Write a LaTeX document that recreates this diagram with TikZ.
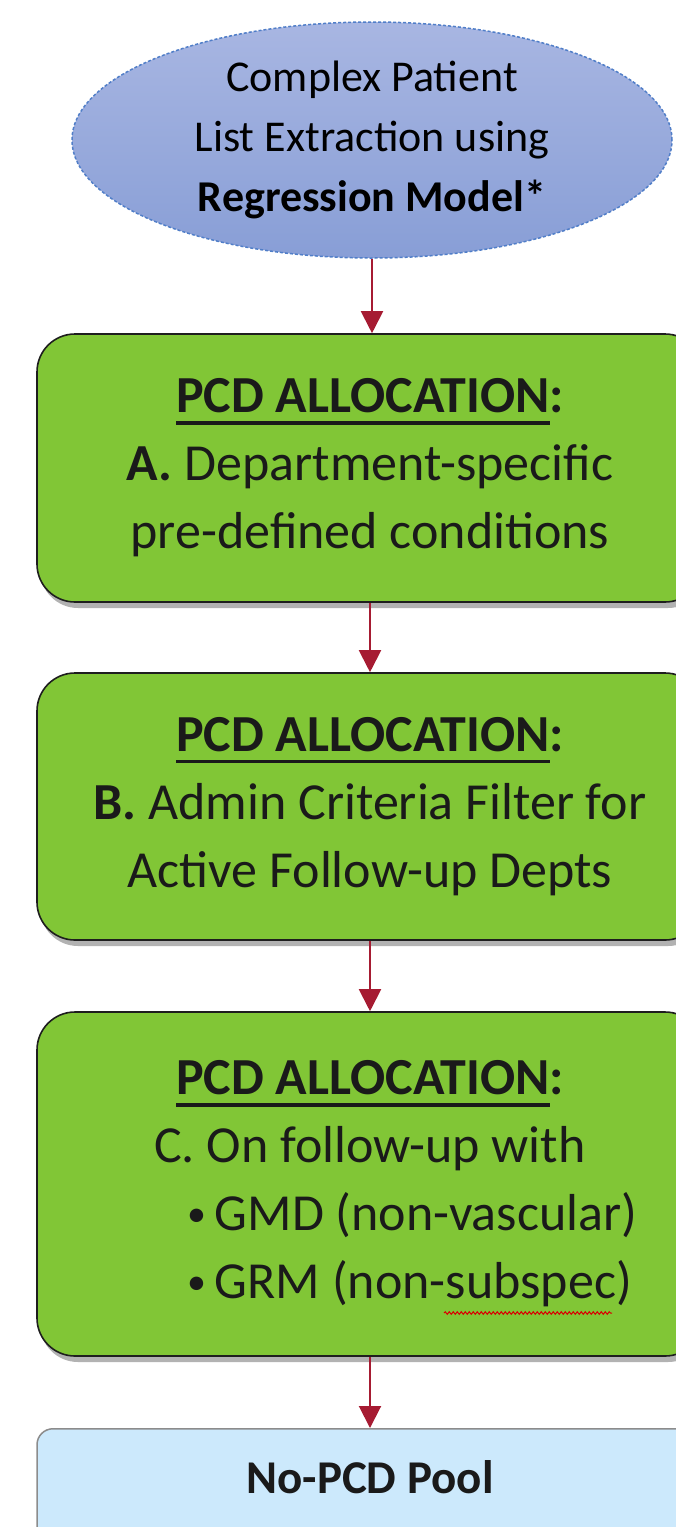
\documentclass[tikz,border=0pt]{standalone}
\usepackage{fontspec}
\setmainfont{Carlito}
\usetikzlibrary{shapes.geometric,arrows.meta,shadows,decorations.pathmorphing}
\definecolor{ellTop}{RGB}{168,182,226}
\definecolor{ellBot}{RGB}{136,158,214}
\definecolor{ellLine}{RGB}{80,126,200}
\definecolor{boxGreen}{RGB}{129,198,54}
\definecolor{boxLine}{RGB}{30,30,30}
\definecolor{poolBlue}{RGB}{204,233,252}
\definecolor{poolLine}{RGB}{140,140,140}
\definecolor{arrowRed}{RGB}{166,27,50}
\definecolor{txt}{RGB}{26,26,26}
\newsavebox\ulbox
\newcommand\myul[1]{\sbox\ulbox{#1}\rlap{\rule[-12pt]{\wd\ulbox}{3.5pt}}\usebox\ulbox}
\newcommand\mybul{\raisebox{4pt}{\fontsize{38}{38}\selectfont•}}
\tikzset{
  startell/.style={ellipse, minimum width=600pt, minimum height=236pt, inner sep=0pt,
    top color=ellTop, bottom color=ellBot, draw=ellLine, line width=1.5pt,
    dash pattern=on 3pt off 2pt, align=center, text=black,
    font=\fontsize{44}{60}\selectfont},
  greenbox/.style={rectangle, rounded corners=38pt, fill=boxGreen, draw=boxLine,
    line width=1.6pt, minimum width=666pt, align=center, text=txt,
    drop shadow={shadow xshift=3pt, shadow yshift=-6pt, opacity=.3, fill=black},
    font=\fontsize{52}{68}\selectfont},
  poolbox/.style={rectangle, rounded corners=16pt, fill=poolBlue, draw=poolLine,
    line width=1.5pt, minimum width=666pt, inner ysep=0pt, text=txt,
    text height=65pt, text depth=100pt, font=\fontsize{47}{56}\selectfont\bfseries},
  flow/.style={draw=arrowRed, line width=2pt, -{Triangle[width=22pt,length=22pt]}}
}
\begin{document}
\begin{tikzpicture}[x=1pt,y=-1pt]
\useasboundingbox (0,0) rectangle (676,1527);
\clip (0,0) rectangle (676,1527);
\fill[white] (0,0) rectangle (676,1527);

\node[startell] (ext) at (372,140) {Complex Patient\\List Extraction using\\\textbf{Regression Model*}};

\node[greenbox, minimum height=268pt] (pa) at (370,468)
  {\textbf{\myul{PCD ALLOCATION}:}\\\textbf{A.} Department-specific\\pre-defined conditions};

\node[greenbox, minimum height=267pt] (pb) at (370,806.5)
  {\textbf{\myul{PCD ALLOCATION}:}\\\textbf{B.} Admin Criteria Filter for\\Active Follow-up Depts};

\node[greenbox, minimum height=344pt] (pc) at (370,1184)
  {\textbf{\myul{PCD ALLOCATION}:}\\C. On follow-up with\\
   \makebox[366pt][l]{\mybul\hspace{9pt}GMD (non-vascular)}\\
   \makebox[366pt][l]{\mybul\hspace{9pt}GRM (non-subspec)}};

\node[poolbox, anchor=north] (pool) at (370,1428) {No-PCD Pool};

\draw[red!85!black, line width=1pt, decorate,
  decoration={snake, amplitude=1.3pt, segment length=4pt}] (444,1313) -- (612,1313);

\draw[flow] (ext.south) -- (ext.south |- pa.north);
\draw[flow] (pa.south) -- (pb.north);
\draw[flow] (pb.south) -- (pc.north);
\draw[flow] (pc.south) -- (pool.north);
\end{tikzpicture}
\end{document}
